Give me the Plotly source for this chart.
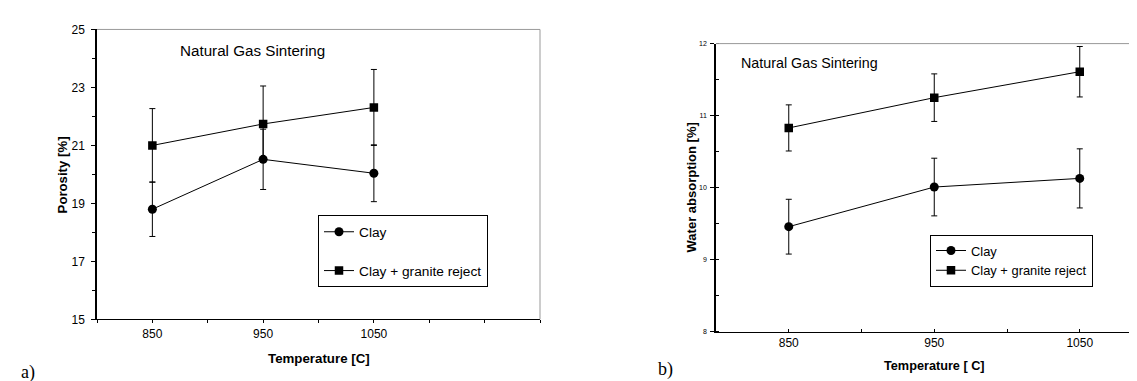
import plotly.graph_objects as go

# ---- data ----
temps = [850, 950, 1050]
# panel a) porosity [%]
por_clay = [18.80, 20.52, 20.04]
por_clay_err = [0.94, 1.04, 0.98]
por_gran = [21.00, 21.74, 22.31]
por_gran_err = [1.27, 1.31, 1.31]
# panel b) water absorption [%]
wa_clay = [9.46, 10.01, 10.13]
wa_clay_err = [0.38, 0.40, 0.41]
wa_gran = [10.83, 11.25, 11.61]
wa_gran_err = [0.32, 0.33, 0.35]

x_ticks = [850, 950, 1050]
por_ticks = [15, 17, 19, 21, 23, 25]
wa_ticks = [8, 9, 10, 11, 12]

FONT = "Arial, Liberation Sans, sans-serif"
W, H = 1137, 381

fig = go.Figure()

def add(x, y, err, name, symbol, xa, ya, legend, group):
    fig.add_trace(go.Scatter(
        x=x, y=y, name=name, mode="lines+markers",
        xaxis=xa, yaxis=ya, legend=legend, legendgroup=group,
        line=dict(color="black", width=1),
        marker=dict(symbol=symbol, size=9 if symbol == "circle" else 8.5, color="black"),
        error_y=dict(type="data", array=err, visible=True, color="black",
                     thickness=1, width=3),
    ))

add(temps, por_clay, por_clay_err, "Clay", "circle", "x", "y", "legend", "a1")
add(temps, por_gran, por_gran_err, "Clay + granite reject", "square", "x", "y", "legend", "a2")
add(temps, wa_clay, wa_clay_err, "Clay", "circle", "x2", "y2", "legend2", "b1")
add(temps, wa_gran, wa_gran_err, "Clay + granite reject", "square", "x2", "y2", "legend2", "b2")

def xaxis(domain, rng, anchor, tdir):
    return dict(domain=domain, range=rng, anchor=anchor, showgrid=False, zeroline=False,
                showline=True, linecolor="black", linewidth=1,
                tickvals=x_ticks, ticks=tdir, ticklen=3, tickcolor="black",
                tickfont=dict(family=FONT, size=12, color="black"),
                minor=dict(tick0=800, dtick=50, ticks=tdir, ticklen=3, tickcolor="black"))

def yaxis(domain, rng, anchor, tv, mdt, fs, mdir, standoff):
    return dict(domain=domain, range=rng, anchor=anchor, showgrid=False, zeroline=False,
                showline=True, linecolor="black", linewidth=1.5,
                tickvals=tv, ticks="outside", ticklen=4, tickcolor="black",
                ticklabelstandoff=standoff,
                tickfont=dict(family=FONT, size=fs, color="black"),
                minor=dict(dtick=mdt, ticks=mdir, ticklen=3, tickcolor="black"))

xd1 = [89 / W, 532 / W]
yd1 = [1 - 316 / H, 1 - 15 / H]
xd2 = [708 / W, 1.0]
yd2 = [1 - 329 / H, 1 - 29.7 / H]

fig.update_layout(
    width=W, height=H, margin=dict(l=0, r=0, t=0, b=0),
    paper_bgcolor="white", plot_bgcolor="white",
    font=dict(family=FONT, color="black"),
    xaxis=xaxis(xd1, [800, 1200], "y", "outside"),
    yaxis=yaxis(yd1, [15, 25], "x", por_ticks, 1, 12, "outside", 4),
    xaxis2=xaxis(xd2, [800, 800 + (W - 708) / 1.455], "y2", "inside"),
    yaxis2=yaxis(yd2, [8, 12], "x2", wa_ticks, 0.5, 7, "inside", 2),
    legend=dict(x=310 / W, y=1 - 208 / H, xanchor="left", yanchor="top",
                bgcolor="white", bordercolor="black", borderwidth=1,
                font=dict(family=FONT, size=13.7, color="black"),
                tracegroupgap=18, itemwidth=30),
    legend2=dict(x=922 / W, y=1 - 228 / H, xanchor="left", yanchor="top",
                 bgcolor="white", bordercolor="black", borderwidth=1,
                 font=dict(family=FONT, size=12.9, color="black"),
                 tracegroupgap=0, itemwidth=30),
    showlegend=True,
)

# gray frame edges (top / right)
for xr, yr in (("x domain", "y domain"), ("x2 domain", "y2 domain")):
    fig.add_shape(type="line", xref=xr, yref=yr, x0=0, x1=1, y0=1, y1=1,
                  line=dict(color="#999999", width=1))
fig.add_shape(type="line", xref="x domain", yref="y domain", x0=1, x1=1, y0=0, y1=1,
              line=dict(color="#999999", width=1))

def ann(text, x, y, size, bold=False, angle=0, family=FONT):
    fig.add_annotation(text=f"<b>{text}</b>" if bold else text, x=x, y=y,
                       xref="paper", yref="paper", showarrow=False, textangle=angle,
                       font=dict(family=family, size=size, color="black"),
                       xanchor="center", yanchor="middle")

ann("Natural Gas Sintering", 244 / W, 1 - 37 / H, 15.2)
ann("Natural Gas Sintering", 801 / W, 1 - 50 / H, 14.3)
ann("Porosity [%]", 54 / W, 1 - 165.5 / H, 13.2, bold=True, angle=-90)
ann("Water absorption [%]", 683 / W, 1 - 179 / H, 13, bold=True, angle=-90)
ann("Temperature [C]", 311 / W, 1 - 357 / H, 13.3, bold=True)
ann("Temperature [ C]", 926 / W, 1 - 364 / H, 12.7, bold=True)
ann("a)", 20 / W, 1 - 371 / H, 18, family="Liberation Serif, Times New Roman, serif")
ann("b)", 657 / W, 1 - 368 / H, 18, family="Liberation Serif, Times New Roman, serif")

fig.write_html("out.html")
